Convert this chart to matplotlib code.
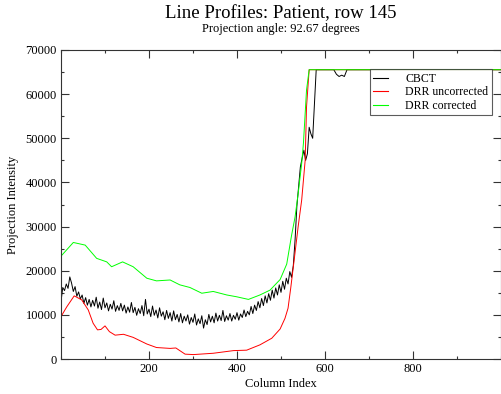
import matplotlib
matplotlib.use("Agg")
import matplotlib.pyplot as plt
from matplotlib.ticker import MultipleLocator

plt.rcParams['font.family'] = ['Liberation Serif', 'DejaVu Serif']

SAT = 65535

# CBCT profile (noisy), columns every 4 up to the saturation
cbct_x = list(range(0, 532, 4)) + [532, 536, 540, 544, 548, 552, 556, 560, 564, 568,
                                   572, 576, 580, 600, 620, 626, 632, 638, 644, 650, 1000]
cbct_y = [13000, 16200, 15500, 17000, 16000, 18600, 17200, 15300, 16400, 14200,
          15200, 13600, 14500, 12600, 13900, 12200, 13500, 11800, 13300, 12000,
          14000, 11500, 12900, 11200, 13800, 11600, 12700, 10900, 12400, 11300,
          13200, 10800, 12100, 11000, 12600, 10900, 12200, 10400, 11800, 10600,
          12800, 10500, 11700, 9900, 11400, 10300, 12100, 9800, 13500, 10200,
          11300, 9600, 12000, 9900, 11100, 9300, 11600, 9700, 10700, 8900,
          11000, 9200, 10500, 8600, 10900, 8900, 10100, 8400, 10300, 8200,
          9700, 8600, 10000, 7900, 9400, 8300, 10200, 7700, 9100, 8000,
          9800, 7000, 8900, 7800, 10100, 8400, 9700, 8200, 10400, 8600,
          9900, 8700, 11000, 8500, 9800, 8800, 10300, 8600, 9900, 9000,
          10500, 8800, 10200, 9400, 11100, 9600, 10800, 10000, 11900, 10300,
          12200, 11000, 13000, 11600, 13700, 12100, 14300, 12700, 14800, 13300,
          15600, 13800, 16100, 14500, 16800, 15100, 17600, 15800, 18300, 17000,
          19800, 18500, 21200,
          27000, 34500, 39000, 43500, 45500, 47300, 45000, 46500, 52500, 51000,
          50000, 58000, SAT, SAT, SAT, 64500, 64000, 64300, 64000, SAT, SAT]

# DRR uncorrected
drr_unc_x = [0, 13, 30, 47, 62, 73, 83, 91, 100, 110, 123, 142, 164, 195, 217,
             248, 261, 282, 301, 346, 392, 422, 452, 479, 498, 509, 516, 522,
             530, 539, 547, 555, 558, 564, 1000]
drr_unc_y = [9600, 11800, 14300, 13400, 11100, 8100, 6600, 6700, 7500, 6200,
             5400, 5600, 4900, 3400, 2600, 2400, 2500, 1100, 1000, 1300, 1900,
             2000, 3200, 4700, 6800, 9200, 11500, 16000, 22500, 30000, 36000,
             45100, 57100, SAT, SAT]

# DRR corrected
drr_cor_x = [0, 28, 55, 81, 104, 115, 140, 164, 195, 217, 248, 270, 293, 320,
             346, 377, 399, 426, 452, 475, 498, 513, 524, 532, 539, 547, 551,
             558, 564, 1000]
drr_cor_y = [23300, 26400, 25800, 22800, 22000, 20900, 22000, 20900, 18300,
             17700, 17900, 16800, 16200, 14900, 15300, 14500, 14100, 13500,
             14500, 15600, 18000, 21500, 28000, 32200, 37500, 44300, 48900,
             60900, SAT, SAT]

fig = plt.figure(figsize=(5.01, 3.94), dpi=100)
ax = fig.add_axes([61 / 501, 35 / 394, 440 / 501, 309 / 394])

ax.plot(cbct_x, cbct_y, color='black', lw=0.7, label='CBCT')
ax.plot(drr_unc_x, drr_unc_y, color='#ff0000', lw=0.7, label='DRR uncorrected')
ax.plot(drr_cor_x, drr_cor_y, color='#00ff00', lw=0.7, label='DRR corrected')

ax.set_xlim(0, 1000)
ax.set_ylim(0, 70000)
ax.xaxis.set_major_locator(MultipleLocator(200))
ax.xaxis.set_minor_locator(MultipleLocator(100))
ax.yaxis.set_major_locator(MultipleLocator(10000))
ax.yaxis.set_minor_locator(MultipleLocator(5000))
ax.set_xticks([200, 400, 600, 800])
ax.set_xticklabels(['200', '400', '600', '800'])
ax.tick_params(which='both', direction='in', top=True, right=True,
               labelsize=9, width=0.8, colors='#333333', labelcolor='black')
ax.tick_params(which='major', length=5.5, pad=3)
ax.tick_params(which='minor', length=2.5)
for s in ax.spines.values():
    s.set_linewidth(0.8)
    s.set_color('#333333')

ax.set_xlabel('Column Index', fontsize=9, labelpad=2)
ax.set_ylabel('Projection Intensity', fontsize=9, labelpad=5)

fig.text(281 / 501, 1 - 14 / 394, 'Line Profiles: Patient, row 145',
         ha='center', va='center', fontsize=13.5)
fig.text(281 / 501, 1 - 29 / 394, 'Projection angle: 92.67 degrees',
         ha='center', va='center', fontsize=9)

leg = ax.legend(loc='upper left', bbox_to_anchor=(0.702, 0.937), fontsize=8.5,
                frameon=True, fancybox=False, borderaxespad=0, handlelength=1.2,
                borderpad=0.3, labelspacing=0.12, handletextpad=1.5)
leg.get_frame().set_edgecolor('#333333')
leg.get_frame().set_linewidth(0.8)
for line in leg.get_lines():
    line.set_linewidth(0.8)

fig.savefig('out.png', dpi=100)
